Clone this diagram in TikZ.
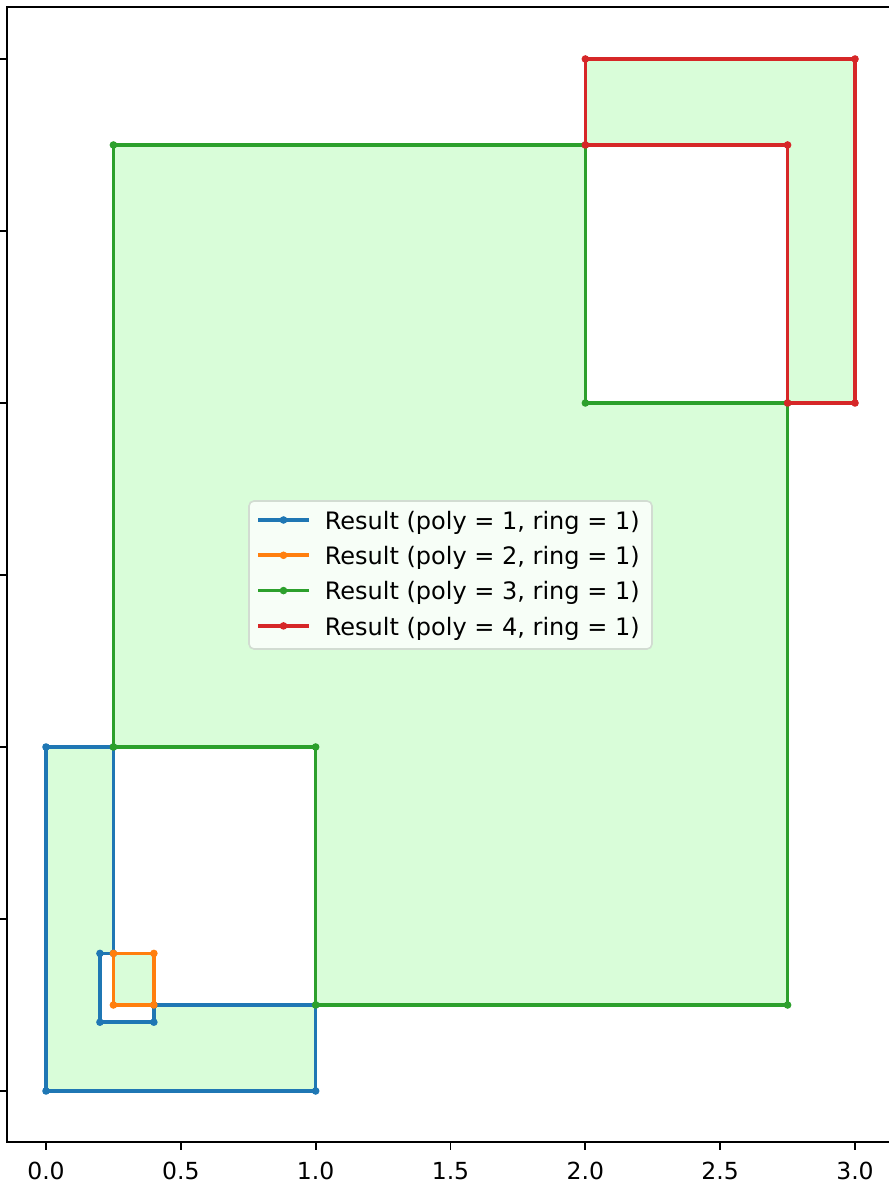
\documentclass[tikz,border=0pt]{standalone}
\usepackage{fontspec}
\setmainfont{DejaVu Sans}
\definecolor{tblue}{HTML}{1F77B4}
\definecolor{torange}{HTML}{FF7F0E}
\definecolor{tgreen}{HTML}{2CA02C}
\definecolor{tred}{HTML}{D62728}
\definecolor{fillg}{RGB}{217,253,217}
\definecolor{legbg}{RGB}{247,254,247}
\definecolor{legframe}{RGB}{210,220,210}
\tikzset{
  ring/.style={line width=3.6pt, line join=round, line cap=round},
  spine/.style={line width=1.9pt, black, line cap=rect},
  tickmark/.style={line width=1.9pt, black},
  ticklabel/.style={font=\fontsize{23.5}{28}\selectfont, inner sep=0pt, anchor=base},
  legtext/.style={font=\fontsize{24}{28}\selectfont, inner sep=0pt, anchor=base west},
}
\newcommand{\dotsat}[2]{\foreach \p in {#2} {\fill[#1] \p circle[radius=3.8pt];}}
\begin{document}
\begin{tikzpicture}[x=1pt,y=1pt]
\useasboundingbox (0,0) rectangle (888,1190);
\begin{scope}[shift={(46pt,99pt)}, x=269.67pt, y=344pt]
  % fills
  \fill[fillg] (0,0) -- (1,0) -- (1,0.25) -- (0.4,0.25) -- (0.4,0.2) -- (0.2,0.2) -- (0.2,0.4) -- (0.25,0.4) -- (0.25,1) -- (0,1) -- cycle;
  \fill[fillg] (0.25,0.25) rectangle (0.4,0.4);
  \fill[fillg] (0.25,1) -- (1,1) -- (1,0.25) -- (2.75,0.25) -- (2.75,2) -- (2,2) -- (2,2.75) -- (0.25,2.75) -- cycle;
  \fill[fillg] (2,2.75) -- (2,3) -- (3,3) -- (3,2) -- (2.75,2) -- (2.75,2.75) -- cycle;
  % poly 1
  \draw[ring, tblue] (0,0) -- (1,0) -- (1,0.25) -- (0.4,0.25) -- (0.4,0.2) -- (0.2,0.2) -- (0.2,0.4) -- (0.25,0.4) -- (0.25,1) -- (0,1) -- cycle;
  \dotsat{tblue}{(0,0),(1,0),(1,0.25),(0.4,0.25),(0.4,0.2),(0.2,0.2),(0.2,0.4),(0.25,0.4),(0.25,1),(0,1)}
  % poly 2
  \draw[ring, torange] (0.25,0.25) -- (0.4,0.25) -- (0.4,0.4) -- (0.25,0.4) -- cycle;
  \dotsat{torange}{(0.25,0.25),(0.4,0.25),(0.4,0.4),(0.25,0.4)}
  % poly 3
  \draw[ring, tgreen] (0.25,1) -- (1,1) -- (1,0.25) -- (2.75,0.25) -- (2.75,2) -- (2,2) -- (2,2.75) -- (0.25,2.75) -- cycle;
  \dotsat{tgreen}{(0.25,1),(1,1),(1,0.25),(2.75,0.25),(2.75,2),(2,2),(2,2.75),(0.25,2.75)}
  % poly 4
  \draw[ring, tred] (2,2.75) -- (2,3) -- (3,3) -- (3,2) -- (2.75,2) -- (2.75,2.75) -- cycle;
  \dotsat{tred}{(2,2.75),(2,3),(3,3),(3,2),(2.75,2),(2.75,2.75)}
\end{scope}
% spines
\draw[spine] (888,1183) -- (7,1183) -- (7,48) -- (888,48);
% y ticks
\foreach \y in {1131,959,787,615,443,271,99} \draw[tickmark] (-1,\y) -- (7,\y);
% x ticks and labels
\foreach \k/\lab in {0/0.0,1/0.5,2/1.0,3/1.5,4/2.0,5/2.5,6/3.0} {
  \draw[tickmark] ({46+134.833*\k},48) -- ({46+134.833*\k},40);
  \node[ticklabel] (xl\k) at ({46+134.833*\k},10) {\lab};
}
% legend
\draw[fill=legbg, draw=legframe, line width=1.6pt, rounded corners=5pt] (249,689) rectangle (652,541);
\foreach \i/\c/\n in {0/tblue/1,1/torange/2,2/tgreen/3,3/tred/4} {
  \draw[ring, \c, line cap=butt] (258,{670-35.3*\i}) -- (309,{670-35.3*\i});
  \fill[\c] (283.5,{670-35.3*\i}) circle[radius=3.8pt];
  \node[legtext] (leg\n) at (324.6,{660.7-35.3*\i}) {Result (poly = \n, ring = 1)};
}
\end{tikzpicture}
\end{document}
